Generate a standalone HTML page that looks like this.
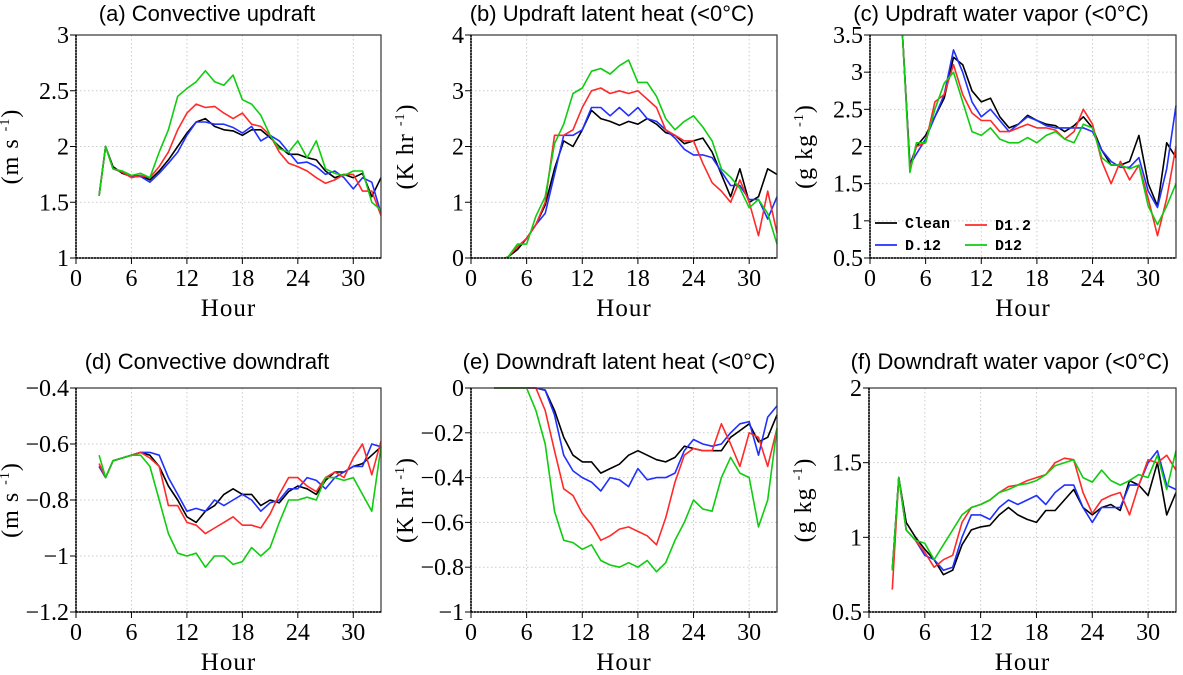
<!DOCTYPE html>
<html><head><meta charset="utf-8"><style>
body{margin:0;background:#fff;width:1183px;height:670px;overflow:hidden}
svg text{font-family:"Liberation Serif",serif}
</style></head><body>
<svg id="chart" width="1183" height="670" xmlns="http://www.w3.org/2000/svg"></svg>
<script>
// ---- data ----
const hoursStd = [2.5,3.2,4,5,6,7,8,9,10,11,12,13,14,15,16,17,18,19,20,21,22,23,24,25,26,27,28,29,30,31,32,33];
const hoursB = [3.7,4,5,6,7,8,9,10,11,12,13,14,15,16,17,18,19,20,21,22,23,24,25,26,27,28,29,30,31,32,33];
const hoursC = [3.5,4.3,5,6,7,8,9,10,11,12,13,14,15,16,17,18,19,20,21,22,23,24,25,26,27,28,29,30,31,32,33];
const seriesNames = ["Clean","D.12","D1.2","D12"];
const xTicks = [0,6,12,18,24,30];

const aClean=[1.56,2.0,1.82,1.76,1.73,1.74,1.70,1.78,1.88,2.0,2.12,2.22,2.25,2.18,2.15,2.14,2.10,2.15,2.15,2.08,2.0,1.93,1.93,1.90,1.88,1.78,1.72,1.75,1.72,1.76,1.55,1.72];
const aD012=[1.56,2.0,1.80,1.77,1.73,1.73,1.68,1.76,1.85,1.95,2.10,2.22,2.22,2.20,2.20,2.17,2.12,2.18,2.05,2.10,2.05,1.95,1.85,1.86,1.82,1.75,1.78,1.72,1.62,1.72,1.68,1.40];
const aD12r=[1.56,2.0,1.80,1.77,1.72,1.74,1.72,1.82,1.95,2.15,2.30,2.38,2.35,2.36,2.30,2.25,2.30,2.20,2.18,2.10,1.95,1.85,1.82,1.78,1.72,1.67,1.70,1.75,1.75,1.60,1.60,1.38];
const aD12=[1.56,2.0,1.80,1.78,1.74,1.76,1.72,1.95,2.15,2.45,2.52,2.58,2.68,2.58,2.55,2.64,2.42,2.38,2.28,2.10,1.98,1.95,2.05,1.90,2.05,1.80,1.76,1.74,1.78,1.78,1.50,1.43];

const bClean=[0,0.02,0.15,0.35,0.6,0.95,1.6,2.1,2.0,2.3,2.65,2.5,2.45,2.38,2.45,2.4,2.5,2.4,2.25,2.2,2.05,2.1,2.15,1.9,1.5,1.1,1.6,1.0,1.1,1.6,1.5];
const bD012=[0,0.02,0.2,0.35,0.6,0.8,1.5,2.2,2.2,2.3,2.7,2.7,2.55,2.7,2.55,2.7,2.5,2.45,2.3,2.15,1.95,1.85,1.85,1.8,1.55,1.3,1.3,1.05,1.05,0.7,1.1];
const bD12r=[0,0.02,0.2,0.35,0.6,1.0,2.2,2.2,2.3,2.7,3.0,3.05,2.95,3.0,2.95,3.0,2.85,2.7,2.3,2.2,2.1,2.1,1.7,1.35,1.2,1.0,1.4,1.0,0.4,1.2,0.45];
const bD12=[0,0.02,0.25,0.25,0.75,1.1,2.05,2.4,2.95,3.05,3.35,3.4,3.3,3.45,3.55,3.15,3.15,2.9,2.5,2.3,2.45,2.55,2.35,2.1,1.6,1.45,1.25,0.9,1.05,0.8,0.25];

const cClean=[3.5,1.75,2.0,2.15,2.4,2.65,3.2,3.1,2.75,2.6,2.65,2.4,2.25,2.3,2.42,2.35,2.3,2.28,2.2,2.28,2.4,2.25,1.95,1.75,1.75,1.8,2.15,1.5,1.2,2.05,1.85];
const cD012=[3.5,1.75,1.9,2.1,2.4,2.7,3.3,3.0,2.6,2.4,2.5,2.35,2.2,2.3,2.4,2.35,2.28,2.25,2.25,2.25,2.25,2.2,1.95,1.8,1.72,1.72,1.85,1.4,1.18,1.7,2.55];
const cD12r=[3.5,1.7,2.0,2.05,2.6,2.7,3.1,2.7,2.45,2.35,2.35,2.2,2.2,2.25,2.3,2.25,2.25,2.22,2.1,2.2,2.5,2.3,1.8,1.5,1.8,1.55,1.75,1.3,0.8,1.3,2.0];
const cD12=[3.5,1.65,2.05,2.05,2.5,2.85,3.0,2.6,2.2,2.15,2.25,2.1,2.05,2.05,2.12,2.05,2.15,2.2,2.1,2.05,2.3,2.25,1.85,1.75,1.75,1.7,1.75,1.2,0.95,1.2,1.5];

const dClean=[-0.68,-0.72,-0.66,-0.65,-0.64,-0.63,-0.64,-0.68,-0.75,-0.8,-0.86,-0.88,-0.84,-0.82,-0.78,-0.76,-0.78,-0.78,-0.82,-0.8,-0.81,-0.77,-0.75,-0.76,-0.78,-0.73,-0.7,-0.7,-0.68,-0.67,-0.64,-0.61];
const dD012=[-0.68,-0.72,-0.66,-0.65,-0.64,-0.63,-0.63,-0.64,-0.72,-0.78,-0.84,-0.83,-0.84,-0.8,-0.82,-0.8,-0.78,-0.8,-0.84,-0.81,-0.8,-0.76,-0.76,-0.72,-0.73,-0.76,-0.72,-0.7,-0.68,-0.68,-0.6,-0.61];
const dD12r=[-0.67,-0.72,-0.66,-0.65,-0.64,-0.63,-0.65,-0.68,-0.82,-0.82,-0.88,-0.89,-0.92,-0.9,-0.88,-0.86,-0.89,-0.89,-0.9,-0.85,-0.78,-0.72,-0.72,-0.75,-0.77,-0.72,-0.7,-0.72,-0.65,-0.6,-0.71,-0.59];
const dD12=[-0.64,-0.72,-0.66,-0.65,-0.64,-0.64,-0.68,-0.8,-0.92,-0.99,-1.0,-0.99,-1.04,-1.0,-1.0,-1.03,-1.02,-0.97,-1.0,-0.97,-0.88,-0.8,-0.8,-0.79,-0.8,-0.72,-0.72,-0.73,-0.72,-0.78,-0.84,-0.61];

const eClean=[0,0,0,0,0,0,-0.01,-0.1,-0.22,-0.3,-0.33,-0.33,-0.38,-0.36,-0.34,-0.3,-0.28,-0.3,-0.32,-0.33,-0.31,-0.26,-0.27,-0.28,-0.28,-0.28,-0.22,-0.19,-0.16,-0.24,-0.22,-0.12];
const eD012=[0,0,0,0,0,0,-0.01,-0.12,-0.3,-0.37,-0.4,-0.42,-0.46,-0.4,-0.41,-0.44,-0.36,-0.41,-0.4,-0.4,-0.38,-0.28,-0.23,-0.25,-0.26,-0.25,-0.2,-0.16,-0.15,-0.3,-0.13,-0.08];
const eD12r=[0,0,0,0,0,0,-0.1,-0.28,-0.45,-0.48,-0.56,-0.61,-0.68,-0.66,-0.63,-0.62,-0.64,-0.66,-0.7,-0.58,-0.42,-0.3,-0.27,-0.28,-0.28,-0.16,-0.25,-0.35,-0.2,-0.22,-0.35,-0.18];
const eD12=[0,0,0,0,0,-0.1,-0.25,-0.55,-0.68,-0.69,-0.72,-0.7,-0.77,-0.79,-0.8,-0.78,-0.8,-0.77,-0.82,-0.78,-0.68,-0.6,-0.5,-0.54,-0.55,-0.4,-0.31,-0.38,-0.4,-0.62,-0.5,-0.18];

const fClean=[0.78,1.4,1.1,1.0,0.92,0.85,0.75,0.78,0.95,1.05,1.07,1.08,1.15,1.2,1.15,1.12,1.1,1.18,1.18,1.25,1.32,1.2,1.15,1.2,1.22,1.18,1.38,1.35,1.28,1.5,1.15,1.3];
const fD012=[0.78,1.4,1.05,0.98,0.88,0.85,0.78,0.8,1.0,1.15,1.15,1.12,1.2,1.25,1.22,1.25,1.28,1.22,1.3,1.35,1.35,1.2,1.1,1.2,1.2,1.2,1.35,1.35,1.5,1.58,1.35,1.32];
const fD12r=[0.65,1.4,1.05,0.98,0.9,0.8,0.85,0.88,1.1,1.2,1.22,1.25,1.3,1.34,1.35,1.38,1.4,1.42,1.5,1.53,1.52,1.3,1.16,1.25,1.28,1.3,1.15,1.35,1.52,1.5,1.55,1.45];
const fD12=[0.78,1.4,1.05,0.98,0.96,0.85,0.95,1.05,1.15,1.2,1.22,1.25,1.3,1.32,1.35,1.36,1.38,1.42,1.48,1.5,1.52,1.4,1.37,1.45,1.38,1.35,1.38,1.42,1.4,1.55,1.32,1.58];

const aTicks=[1,1.5,2,2.5,3], bTicks=[0,1,2,3,4], cTicks=[0.5,1,1.5,2,2.5,3,3.5];
const dTicks=[-1.2,-1,-0.8,-0.6,-0.4], eTicks=[-1,-0.8,-0.6,-0.4,-0.2,0], fTicks=[0.5,1,1.5,2];

// ---- drawing ----
const NS="http://www.w3.org/2000/svg";
const svg=document.getElementById('chart');
const colors=["#000000","#2030ff","#ff2a2a","#10cc10"];
function mk(tag,attrs,parent){const e=document.createElementNS(NS,tag);for(const k in attrs)e.setAttribute(k,attrs[k]);(parent||svg).appendChild(e);return e;}

const panels=[
 {id:'a',title:'(a) Convective updraft',tx:207,ty:21,x0:76,x1:381,y0:35,y1:258,ymin:1,ymax:3,ticks:aTicks,fmt:v=>String(v),hours:hoursStd,data:[aClean,aD012,aD12r,aD12],upre:'(m s',sup:'-1'},
 {id:'b',title:'(b) Updraft latent heat (<0°C)',tx:612,ty:21,x0:471,x1:777,y0:35,y1:258,ymin:0,ymax:4,ticks:bTicks,fmt:v=>String(v),hours:hoursB,data:[bClean,bD012,bD12r,bD12],upre:'(K hr',sup:'-1'},
 {id:'c',title:'(c) Updraft water vapor (<0°C)',tx:1001,ty:21,x0:870,x1:1176,y0:35,y1:258,ymin:0.5,ymax:3.5,ticks:cTicks,fmt:v=>String(v),hours:hoursC,data:[cClean,cD012,cD12r,cD12],upre:'(g  kg',sup:'-1',legend:true},
 {id:'d',title:'(d) Convective downdraft',tx:207,ty:369,x0:76,x1:381,y0:388,y1:612,ymin:-1.2,ymax:-0.4,ticks:dTicks,fmt:v=>String(v).replace('-','\u2212'),hours:hoursStd,data:[dClean,dD012,dD12r,dD12],upre:'(m s',sup:'-1'},
 {id:'e',title:'(e) Downdraft latent heat (<0°C)',tx:619,ty:369,x0:471,x1:777,y0:388,y1:612,ymin:-1,ymax:0,ticks:eTicks,fmt:v=>String(v).replace('-','\u2212'),hours:hoursStd,data:[eClean,eD012,eD12r,eD12],upre:'(K  hr',sup:'-1'},
 {id:'f',title:'(f) Downdraft water vapor (<0°C)',tx:1010,ty:369,x0:869,x1:1176,y0:388,y1:612,ymin:0.5,ymax:2,ticks:fTicks,fmt:v=>String(v),hours:hoursStd,data:[fClean,fD012,fD12r,fD12],upre:'(g  kg',sup:'-1'}
];

panels.forEach(p=>{
  const g=mk('g',{});
  
  
  const xs=h=>p.x0+(h/33)*(p.x1-p.x0);
  const ys=v=>p.y1-(v-p.ymin)/(p.ymax-p.ymin)*(p.y1-p.y0);
  const t=mk('text',{x:p.tx,y:p.ty,'text-anchor':'middle','font-size':22,style:'font-family:"Liberation Sans",sans-serif'},g);
  t.textContent=p.title;
  
  
  xTicks.forEach(h=>{ if(h>0){const l=mk('line',{x1:xs(h),x2:xs(h),y1:p.y0,y2:p.y1,stroke:'#ccc','stroke-dasharray':'1.5,2.5','stroke-width':1},g);
    }});
  p.ticks.forEach(v=>{ if(v>p.ymin&&v<p.ymax){const l=mk('line',{x1:p.x0,x2:p.x1,y1:ys(v),y2:ys(v),stroke:'#ccc','stroke-dasharray':'1.5,2.5','stroke-width':1},g);
    }});
  p.data.forEach((arr,i)=>{
    const d=arr.map((v,k)=>(k?'L':'M')+xs(p.hours[k]).toFixed(1)+','+ys(v).toFixed(1)).join('');
    const path=mk('path',{d:d,fill:'none',stroke:colors[i],'stroke-width':1.6,'stroke-linejoin':'round'},g);
    
    
  });
  const r=mk('rect',{x:p.x0,y:p.y0,width:p.x1-p.x0,height:p.y1-p.y0,fill:'none',stroke:'#333','stroke-width':1.2},g);
  
  mk('line',{x1:p.x0,x2:p.x0,y1:p.y0,y2:p.y1,stroke:'#000','stroke-width':1.5,'stroke-dasharray':'2,1'},g);
  mk('line',{x1:p.x0,x2:p.x1,y1:p.y1,y2:p.y1,stroke:'#000','stroke-width':1.5,'stroke-dasharray':'2,1'},g);
  xTicks.forEach(h=>{
    mk('line',{x1:xs(h),x2:xs(h),y1:p.y1,y2:p.y1+6,stroke:'#000'},g);
    const tl=mk('text',{x:xs(h),y:p.y1+28,'text-anchor':'middle','font-size':24},g);
    tl.textContent=h;
    
  });
  p.ticks.forEach(v=>{
    mk('line',{x1:p.x0-6,x2:p.x0,y1:ys(v),y2:ys(v),stroke:'#000'},g);
    const tl=mk('text',{x:p.x0-7,y:ys(v)+8,'text-anchor':'end','font-size':24},g);
    tl.textContent=p.fmt(v);
    
  });
  const xl=mk('text',{x:(p.x0+p.x1)/2,y:p.y1+58,'text-anchor':'middle','font-size':25,'letter-spacing':'1'},g);
  xl.textContent='Hour';
  
  const cy=(p.y0+p.y1)/2, cx=p.x0-58;
  const yl=mk('text',{x:cx,y:cy,'text-anchor':'middle','font-size':24,'letter-spacing':'1',transform:`rotate(-90 ${cx} ${cy})`},g);
  
  const t1=mk('tspan',{},yl);t1.textContent=p.upre+' ';
  const t2=mk('tspan',{dy:-9,'font-size':14},yl);t2.textContent=p.sup;
  const t3=mk('tspan',{dy:9},yl);t3.textContent=')';
  if(p.legend){
    const lg=mk('g',{},g);
    
    const pos=[[875,223],[875,245],[965,225],[965,245]];
    seriesNames.forEach((n,i)=>{
      const e=mk('g',{},lg);
      
      mk('line',{x1:pos[i][0],x2:pos[i][0]+22,y1:pos[i][1],y2:pos[i][1],stroke:colors[i],'stroke-width':1.8},e);
      const tt=mk('text',{x:pos[i][0]+30,y:pos[i][1]+5,'font-size':15,'font-weight':'bold',style:'font-family:"Liberation Mono",monospace'},e);
      tt.textContent=n;
    });
  }
});
</script>
</body></html>
